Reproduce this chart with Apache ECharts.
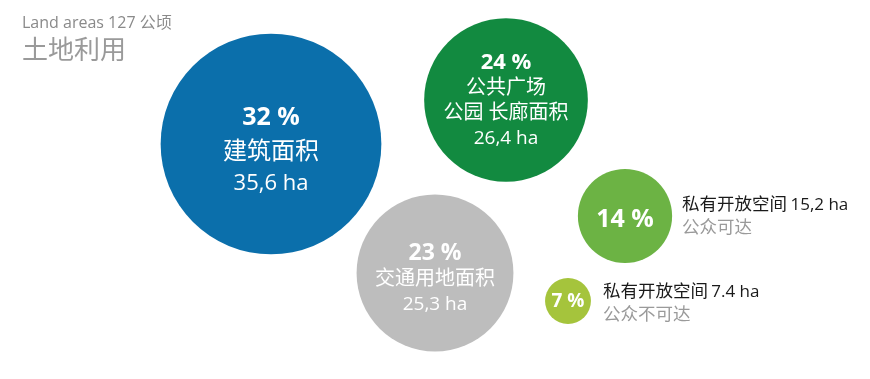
<!DOCTYPE html>
<html>
<head>
<meta charset="utf-8">
<script src="https://cdn.jsdelivr.net/npm/echarts@6/dist/echarts.min.js"></script>
<style>
html,body{margin:0;padding:0;background:#fff;}
#c{width:870px;height:379px;}
</style>
</head>
<body>
<div id="c"></div>
<script>
// ---- data ----
const categories = ['建筑面积', '公共广场\n公园 长廊面积', '交通用地面积', '私有开放空间', '私有开放空间'];
const subLabels = ['', '', '', '公众可达', '公众不可达'];
const percents = [32, 24, 23, 14, 7];
const hectares = [35.6, 26.4, 25.3, 15.2, 7.4];
const haText = ['35,6 ha', '26,4 ha', '25,3 ha', '15,2 ha', '7.4 ha'];
// bubble layout positions (layout units)
const posX = [271, 506, 435, 625, 568];
const posY = [144, 100, 273, 216, 301];
const colors = ['#0b6fab', '#128a40', '#bdbdbd', '#6cb344', '#a5c43c'];
const titleSub = 'Land areas 127 公顷';
const titleMain = '土地利用';

const FONT = '"Open Sans", "Noto Sans CJK SC", sans-serif';
const chart = echarts.init(document.getElementById('c'));

const insideStyles = [
  {p: 25, n: 24, h: 22, lp: 34, ln: 34, lh: 30, off: 6},
  {p: 22, n: 20, h: 19, lp: 27, ln: 25, lh: 25, off: 0},
  {p: 23, n: 20, h: 19, lp: 27, ln: 26, lh: 24, off: 5},
  {p: 25, off: 4},
  {p: 19, off: 1}
];

const mainData = percents.map((p, i) => {
  const s = insideStyles[i];
  const inside = i < 3;
  const fmt = inside
    ? '{p|' + p + ' %}\n' + categories[i].split('\n').map(t => '{n|' + t + '}').join('\n') + '\n{h|' + haText[i] + '}'
    : '{p|' + p + ' %}';
  return {
    value: [posX[i], posY[i], hectares[i]],
    itemStyle: {color: colors[i], opacity: 1},
    label: {
      show: true,
      position: 'inside',
      offset: [0, s.off],
      formatter: fmt,
      rich: {
        p: {fontSize: s.p, fontWeight: 'bold', color: '#fff', fontFamily: FONT, lineHeight: s.lp || s.p + 4, align: 'center'},
        n: {fontSize: s.n || 16, color: '#fff', fontFamily: FONT, lineHeight: s.ln || 20, align: 'center'},
        h: {fontSize: s.h || 16, color: '#fff', fontFamily: FONT, lineHeight: s.lh || 20, align: 'center'}
      }
    }
  };
});

const sideData = percents.map((p, i) => {
  if (i < 3) return null;
  return {
    value: [posX[i], posY[i], hectares[i]],
    label: {
      show: true,
      position: 'right',
      distance: i === 3 ? 10 : 12,
      offset: [0, i === 3 ? 1 : 3],
      formatter: '{a|' + categories[i] + '} {b|' + haText[i] + '}\n{c|' + subLabels[i] + '}',
      rich: {
        a: {fontSize: 17.5, color: '#1a1a1a', fontFamily: FONT, lineHeight: 23},
        b: {fontSize: 17, color: '#1a1a1a', fontFamily: FONT, lineHeight: 23},
        c: {fontSize: 17.5, color: '#9a9a9a', fontFamily: FONT, lineHeight: 23}
      }
    }
  };
}).filter(d => d);

chart.setOption({
  animation: false,
  backgroundColor: '#fff',
  title: [
    {text: titleSub, left: 17, top: 10, textStyle: {fontSize: 16, color: '#8a8a8a', fontWeight: 'normal', fontFamily: FONT}},
    {text: titleMain, left: 17, top: 34, textStyle: {fontSize: 26, color: '#9a9a9a', fontWeight: 'normal', fontFamily: FONT}}
  ],
  grid: {left: 0, right: 0, top: 0, bottom: 0},
  xAxis: {type: 'value', min: 0, max: 870, show: false},
  yAxis: {type: 'value', min: 0, max: 379, inverse: true, show: false},
  series: [
    {
      type: 'scatter',
      symbol: 'circle',
      symbolSize: v => v[2] * 6.2,
      itemStyle: {opacity: 1},
      data: mainData,
      silent: true
    },
    {
      type: 'scatter',
      symbol: 'circle',
      symbolSize: v => v[2] * 6.2,
      itemStyle: {color: 'rgba(0,0,0,0)', opacity: 1},
      data: sideData,
      silent: true
    }
  ]
});
</script>
</body>
</html>
